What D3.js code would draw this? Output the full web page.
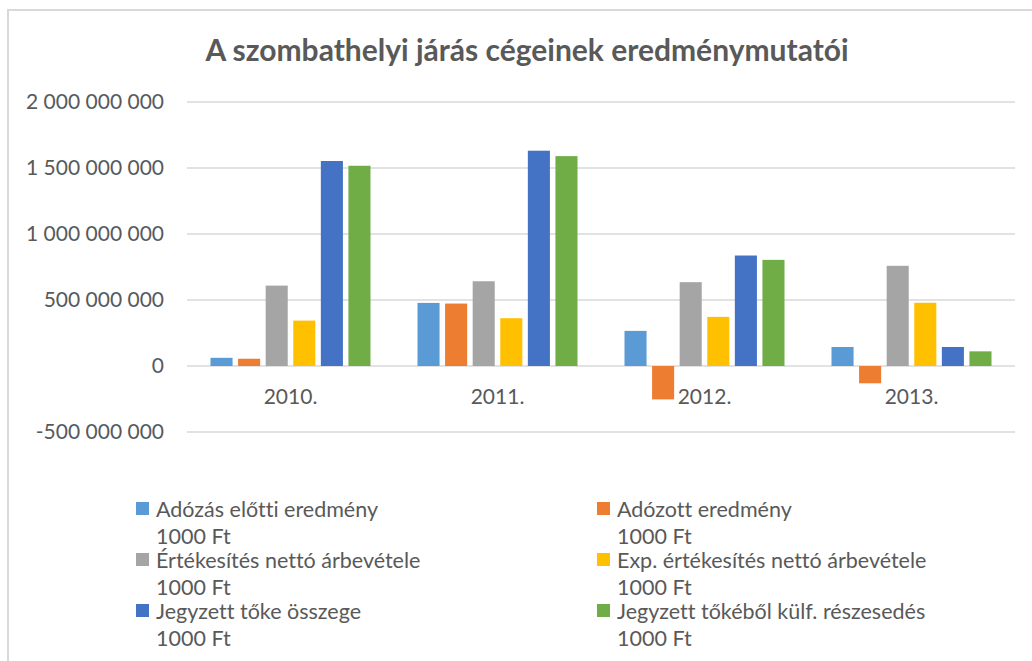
<!DOCTYPE html>
<html>
<head>
<meta charset="utf-8">
<script src="https://cdn.jsdelivr.net/npm/d3@7"></script>
<style>
    body { margin: 0; background: #fff; }
    svg text { font-family: Lato, "Open Sans", sans-serif; fill: #595959; font-variant-ligatures: none; }
</style>
</head>
<body>
<div id="chart"></div>
<script>
// Chart data (values in 1000 Ft)
const years = ['2010.', '2011.', '2012.', '2013.'];
const seriesNames = [
    ['Adózás előtti eredmény', '1000 Ft'],
    ['Adózott eredmény', '1000 Ft'],
    ['Értékesítés nettó árbevétele', '1000 Ft'],
    ['Exp. értékesítés nettó árbevétele', '1000 Ft'],
    ['Jegyzett tőke összege', '1000 Ft'],
    ['Jegyzett tőkéből külf. részesedés', '1000 Ft']
];
const adozasElotti = [62000000, 478000000, 266000000, 144000000];
const adozott = [55000000, 473000000, -253000000, -131000000];
const ertekesites = [609000000, 642000000, 635000000, 759000000];
const expErtekesites = [344000000, 362000000, 372000000, 479000000];
const jegyzettToke = [1553000000, 1631000000, 837000000, 144000000];
const kulfReszesedes = [1517000000, 1590000000, 804000000, 111000000];
const seriesValues = [adozasElotti, adozott, ertekesites, expErtekesites, jegyzettToke, kulfReszesedes];
const yTicks = [-500000000, 0, 500000000, 1000000000, 1500000000, 2000000000];

const colors = ['#5B9BD5', '#ED7D31', '#A5A5A5', '#FFC000', '#4472C4', '#70AD47'];

const width = 1032, height = 661;
const plot = { left: 187, right: 1015, top: 102, bottom: 432 };

const svg = d3.select('#chart')
    .append('svg')
    .attr('width', width)
    .attr('height', height);

// Chart frame
svg.append('rect')
    .attr('x', 8)
    .attr('y', 10)
    .attr('width', 1060)
    .attr('height', 700)
    .attr('fill', 'none')
    .attr('stroke', '#d9d9d9')
    .attr('stroke-width', 2);

// Title
svg.append('text')
    .attr('x', 527)
    .attr('y', 61)
    .attr('text-anchor', 'middle')
    .style('font-size', '30px')
    .style('font-weight', 'bold')
    .text('A szombathelyi járás cégeinek eredménymutatói');

// Scales
const x0 = d3.scaleBand()
    .domain(years)
    .range([plot.left, plot.right])
    .paddingInner(0.227)
    .paddingOuter(0.1135);

const x1 = d3.scaleBand()
    .domain(d3.range(seriesValues.length))
    .range([0, x0.bandwidth()])
    .paddingInner(0.2);

const y = d3.scaleLinear()
    .domain([-500000000, 2000000000])
    .range([plot.bottom, plot.top]);

const huLocale = d3.formatLocale({ decimal: ',', thousands: ' ', grouping: [3], currency: ['', ' Ft'], minus: '-' });
const fmt = huLocale.format(',');

// Gridlines
svg.append('g')
    .selectAll('line')
    .data(yTicks)
    .join('line')
    .attr('x1', plot.left)
    .attr('x2', plot.right)
    .attr('y1', d => y(d))
    .attr('y2', d => y(d))
    .attr('stroke', '#d9d9d9')
    .attr('stroke-width', 1.5);

// Y axis labels
const yAxis = d3.axisLeft(y)
    .tickValues(yTicks)
    .tickFormat(fmt)
    .tickSize(0)
    .tickPadding(0);

svg.append('g')
    .attr('transform', 'translate(164,0)')
    .call(yAxis)
    .call(g => g.select('.domain').remove())
    .selectAll('text')
    .attr('fill', '#595959')
    .style('font-size', '21px')
    .style('font-family', 'Lato, sans-serif');

// Bars
const groups = svg.append('g')
    .selectAll('g')
    .data(years)
    .join('g')
    .attr('transform', d => `translate(${x0(d)},0)`);

groups.selectAll('rect')
    .data((d, i) => seriesValues.map((vals, s) => ({ s: s, v: vals[i] })))
    .join('rect')
    .attr('x', d => x1(d.s))
    .attr('width', x1.bandwidth())
    .attr('y', d => y(Math.max(0, d.v)))
    .attr('height', d => Math.abs(y(d.v) - y(0)))
    .attr('fill', d => colors[d.s]);

// Category labels
const xAxis = d3.axisBottom(x0).tickSize(0).tickPadding(0);
svg.append('g')
    .attr('transform', 'translate(0,389)')
    .call(xAxis)
    .call(g => g.select('.domain').remove())
    .selectAll('text')
    .attr('fill', '#595959')
    .style('font-size', '21px')
    .style('font-family', 'Lato, sans-serif');

// Legend
const legendPos = [
    { x: 136, y: 517 }, { x: 597, y: 517 },
    { x: 136, y: 568 }, { x: 597, y: 568 },
    { x: 136, y: 619 }, { x: 597, y: 619 }
];

const legend = svg.append('g').attr('class', 'legend');

seriesNames.forEach((name, i) => {
    const item = legend.append('g')
        .attr('transform', `translate(${legendPos[i].x},${legendPos[i].y})`);

    item.append('rect')
        .attr('x', 0)
        .attr('y', -15)
        .attr('width', 13)
        .attr('height', 13)
        .attr('fill', colors[i]);

    item.append('text')
        .attr('x', 20)
        .attr('y', 0)
        .style('font-size', '21.5px')
        .text(name[0]);

    item.append('text')
        .attr('x', 20)
        .attr('y', 27)
        .style('font-size', '21.5px')
        .text(name[1]);
});
</script>
</body>
</html>
